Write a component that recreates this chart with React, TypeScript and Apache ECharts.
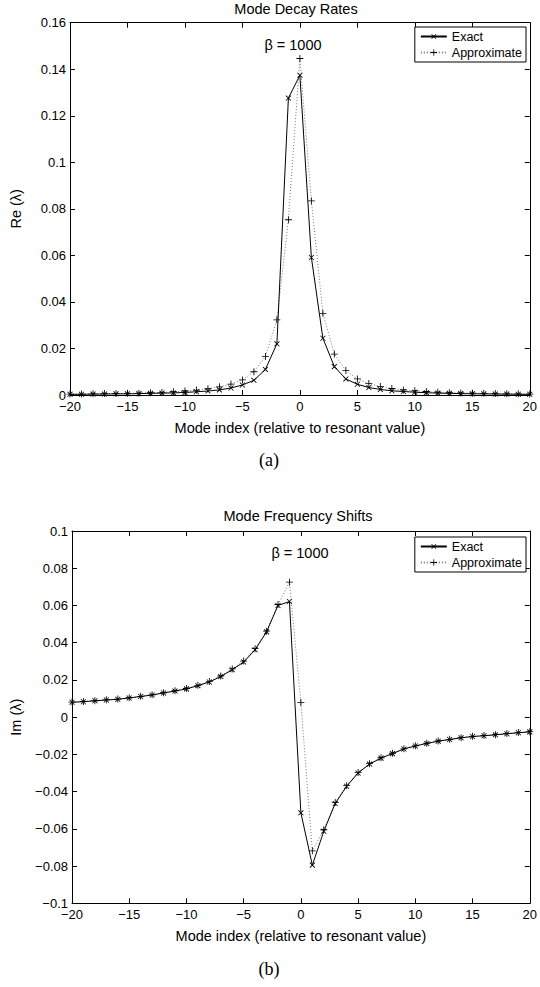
import React, { useEffect, useRef } from 'react';
import * as echarts from 'echarts';

// mode index, relative to the resonant value
const modeIndex = [
  -20, -19, -18, -17, -16, -15, -14, -13, -12, -11, -10, -9, -8, -7, -6, -5, -4, -3, -2, -1,
  0, 1, 2, 3, 4, 5, 6, 7, 8, 9, 10, 11, 12, 13, 14, 15, 16, 17, 18, 19, 20,
];

// (a) Re(lambda)
const decayExact = [
  0.0003, 0.0003, 0.0004, 0.0004, 0.0005, 0.0005, 0.0006, 0.0007, 0.0008, 0.0009,
  0.0011, 0.0014, 0.0017, 0.0022, 0.003, 0.0043, 0.0063, 0.011, 0.022, 0.1276,
  0.1374,
  0.0591, 0.0244, 0.0122, 0.0069, 0.0046, 0.0032, 0.0024, 0.0018, 0.0015, 0.0012,
  0.001, 0.0008, 0.0007, 0.0006, 0.0005, 0.0005, 0.0004, 0.0004, 0.0003, 0.0003,
];
const decayApprox = [
  0.0004, 0.0004, 0.0005, 0.0006, 0.0006, 0.0007, 0.0008, 0.001, 0.0011, 0.0014,
  0.0017, 0.0021, 0.0027, 0.0035, 0.0047, 0.0065, 0.01, 0.0165, 0.0323, 0.0753,
  0.1446,
  0.0834, 0.0351, 0.0176, 0.0105, 0.0069, 0.0049, 0.0037, 0.0028, 0.0022, 0.0018,
  0.0015, 0.0012, 0.001, 0.0009, 0.0008, 0.0007, 0.0006, 0.0005, 0.0005, 0.0004,
];

// (b) Im(lambda)
const shiftExact = [
  0.008, 0.0083, 0.0088, 0.0092, 0.0096, 0.0103, 0.0111, 0.0119, 0.013, 0.014,
  0.0152, 0.0169, 0.0189, 0.0218, 0.0255, 0.0296, 0.0362, 0.0458, 0.06, 0.0621,
  -0.0514,
  -0.0795, -0.0613, -0.0464, -0.0371, -0.03, -0.0252, -0.022, -0.0196, -0.0171, -0.0155,
  -0.0141, -0.0129, -0.012, -0.0111, -0.0104, -0.01, -0.0095, -0.0089, -0.0084, -0.0079,
];
const shiftApprox = [
  0.0081, 0.0084, 0.0088, 0.0093, 0.0097, 0.0104, 0.0112, 0.012, 0.0131, 0.0142,
  0.0154, 0.0171, 0.0192, 0.0221, 0.0259, 0.0301, 0.0368, 0.0462, 0.0605, 0.0725,
  0.0079,
  -0.0718, -0.0605, -0.0458, -0.0368, -0.0297, -0.025, -0.0218, -0.0194, -0.017, -0.0154,
  -0.014, -0.0128, -0.0119, -0.011, -0.0103, -0.0099, -0.0094, -0.0088, -0.0083, -0.0078,
];

const FONT = 'Liberation Sans';
const PLUS = 'path://M4.4,0H5.6V10H4.4ZM0,4.4H10V5.6H0Z';

const fmt = (v: number) => {
  const s = String(parseFloat(v.toFixed(2)));
  return s.replace('-', '\u2212');
};

const App: React.FC = () => {
  const chartRef = useRef<HTMLDivElement>(null);

  useEffect(() => {
    if (!chartRef.current) return;
    const chart = echarts.init(chartRef.current, undefined, { renderer: 'svg' });

    const grids = [
      { left: 64.5, top: 22.7, width: 467.8, height: 372.3 },
      { left: 66.5, top: 531, width: 465.8, height: 372.3 },
    ];

    const axisLine = { show: true, onZero: false, lineStyle: { color: '#000', width: 1 } };
    const tick = { show: true, inside: true, length: 5, lineStyle: { color: '#000' } };
    const label = { color: '#000', fontSize: 13, fontFamily: FONT, formatter: fmt };
    const nameStyle = { color: '#000', fontSize: 14.5, fontFamily: FONT };

    const xAxes: any[] = [];
    const yAxes: any[] = [];
    const yRanges = [
      { min: 0, max: 0.16, name: 'Re (\u03bb)', gap: 47 },
      { min: -0.1, max: 0.1, name: 'Im (\u03bb)', gap: 49 },
    ];
    [0, 1].forEach(g => {
      xAxes.push({
        type: 'value', gridIndex: g, min: -20, max: 20, interval: 5,
        axisLine, axisTick: tick, splitLine: { show: false },
        axisLabel: { ...label, margin: 5 },
        name: 'Mode index (relative to resonant value)',
        nameLocation: 'middle', nameGap: 25,
        nameTextStyle: nameStyle,
      });
      xAxes.push({
        type: 'value', gridIndex: g, position: 'top', min: -20, max: 20, interval: 5,
        axisLine, axisTick: tick, axisLabel: { show: false }, splitLine: { show: false },
      });
      const r = yRanges[g];
      yAxes.push({
        type: 'value', gridIndex: g, min: r.min, max: r.max, interval: 0.02,
        axisLine, axisTick: tick, splitLine: { show: false },
        axisLabel: { ...label, margin: 4 },
        name: r.name, nameLocation: 'middle', nameGap: r.gap,
        nameTextStyle: nameStyle,
      });
      yAxes.push({
        type: 'value', gridIndex: g, position: 'right', min: r.min, max: r.max, interval: 0.02,
        axisLine, axisTick: tick, axisLabel: { show: false }, splitLine: { show: false },
      });
    });

    const pairs = (vals: number[]) => modeIndex.map((x, i) => [x, vals[i]]);

    const approx = (vals: number[], g: number) => ({
      name: 'Approximate', type: 'line', xAxisIndex: g * 2, yAxisIndex: g * 2,
      data: pairs(vals), symbol: PLUS, symbolSize: 7, showSymbol: true,
      itemStyle: { color: '#000' },
      lineStyle: { color: '#777', width: 1, type: [1, 2] },
      z: 2,
    });
    const exact = (vals: number[], g: number) => ({
      name: 'Exact', type: 'line', xAxisIndex: g * 2, yAxisIndex: g * 2,
      data: pairs(vals), symbol: PLUS, symbolRotate: 45, symbolSize: 7, showSymbol: true,
      itemStyle: { color: '#000' },
      lineStyle: { color: '#000', width: 1 },
      z: 3,
    });

    const legendAt = (top: number) => ({
      data: ['Exact', 'Approximate'],
      orient: 'vertical', right: 14, top,
      itemWidth: 26, itemHeight: 8, itemGap: 3,
      padding: [3, 4, 3, 5],
      borderColor: '#000', borderWidth: 1, backgroundColor: '#fff',
      selectedMode: false,
      textStyle: { fontSize: 12.5, color: '#000', fontFamily: FONT },
    });

    const text = (x: number, y: number, t: string, size: number, family = FONT) => ({
      type: 'text', x, y,
      style: {
        text: t, fill: '#000', fontSize: size, fontFamily: family,
        textAlign: 'center', textVerticalAlign: 'middle',
      },
    });

    chart.setOption({
      animation: false,
      backgroundColor: '#fff',
      textStyle: { fontFamily: FONT },
      grid: grids,
      xAxis: xAxes,
      yAxis: yAxes,
      legend: [legendAt(27), legendAt(537)],
      series: [
        approx(decayApprox, 0),
        exact(decayExact, 0),
        approx(shiftApprox, 1),
        exact(shiftExact, 1),
      ],
      graphic: [
        text(296, 8.5, 'Mode Decay Rates', 14.5),
        text(293, 45, '\u03b2 = 1000', 14.5),
        text(269, 460, '(a)', 18, 'Liberation Serif'),
        text(298, 515.5, 'Mode Frequency Shifts', 14.5),
        text(300, 553, '\u03b2 = 1000', 14.5),
        text(269, 969, '(b)', 18, 'Liberation Serif'),
      ],
    });

    return () => {
      chart.dispose();
    };
  }, []);

  return (
    <div
      ref={chartRef}
      style={{ position: 'absolute', left: 0, top: 0, width: 540, height: 987 }}
    />
  );
};

export default App;
